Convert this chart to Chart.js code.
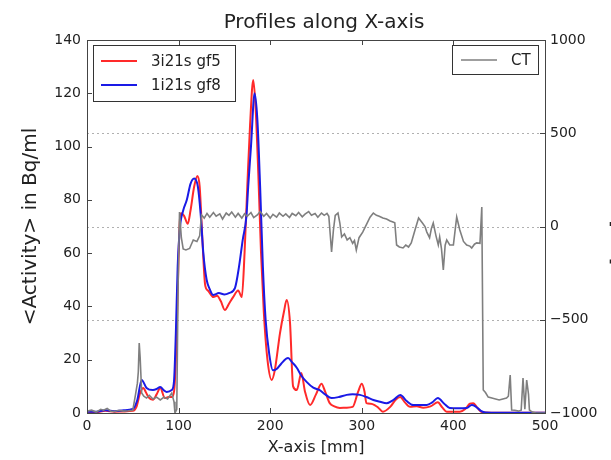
<!DOCTYPE html>
<html>
<head>
<meta charset="utf-8">
<title>Profiles along X-axis</title>
<script src="https://cdn.jsdelivr.net/npm/chart.js@4/dist/chart.umd.min.js"></script>
<style>
    html, body { margin: 0; padding: 0; background: #fff; overflow: hidden; }
    #wrap { width: 611px; height: 460px; overflow: hidden; }
</style>
</head>
<body>
<div id="wrap"><canvas id="graficoPerfis" width="633" height="460"></canvas></div>
<script>
// 3i21s gf5 (left axis, Bq/ml)
const redX = [0, 10, 20, 30, 40, 50, 54, 58, 61.5, 64, 67, 72, 76, 80, 85, 89, 92.5, 95, 97, 99,
    101, 103, 106, 110, 113, 117, 120.5, 123, 126, 129, 132, 138, 142, 146, 150.5, 155, 159.5, 165, 169,
    172, 175, 178, 181.5, 184, 187, 190, 193, 197, 201.6, 205, 210.7, 215, 218, 221.6, 225, 229, 234, 238,
    243.5, 250, 256, 260, 265, 270, 276, 283, 290, 296, 300, 303, 305, 310, 314, 318, 323, 331, 337, 342,
    347, 352.6, 360, 367, 375, 383, 388, 392.7, 400, 407, 413, 418, 421.7, 425, 430, 435, 450, 500];
const redY = [0.5, 0.3, 0.8, 0.5, 0.6, 0.8, 2.3, 7.5, 9.4, 8, 6, 5, 7, 9.4, 5.6, 6, 6, 8, 20, 45,
    70, 75, 74, 71, 76, 85, 89, 85, 65, 48, 46, 43.5, 44, 42, 38.7, 41, 43.5, 46, 43.5,
    60, 85, 108, 125, 115, 90, 60, 38, 20, 12.4, 16, 30, 38, 42.4, 34, 10, 8.6, 15, 8,
    3, 7, 11, 8, 3.7, 2.5, 1.9, 2, 2.3, 8, 11, 8, 3.7, 3.5, 3, 2, 0.5, 2.3, 5, 6,
    4, 2.3, 2.5, 2, 2.5, 4, 2, 0.5, 0.5, 0.5, 1.5, 3.5, 3.7, 2.5, 0.5, 0.2, 0.1, 0.1];

// 1i21s gf8 (left axis, Bq/ml)
const blueX = [0, 10, 20, 30, 40, 50, 55, 59.7, 65, 72, 76, 80, 84, 87, 92.5, 95, 97, 99,
    101.6, 105, 109, 113, 117, 121, 124, 127, 130.6, 134, 137.7, 144, 150, 155, 161.6, 166, 170, 174,
    176, 179, 183, 186, 189, 192, 195, 199, 203, 207, 212, 219.5, 224, 229, 234, 240, 247, 254, 260,
    267, 275, 283.5, 290, 298, 305, 312.6, 320, 327, 335, 342, 349, 356, 363, 371, 377, 383, 390,
    396, 405, 414.5, 420, 424, 430, 435, 450, 500];
const blueY = [0.5, 0.5, 1, 0.7, 1, 1.5, 5, 12.4, 9.4, 8.6, 9, 9.8, 8.5, 7.9, 8.6, 12, 30, 55,
    70, 76, 80, 86, 88, 85, 75, 60, 50, 46.5, 44.3, 45, 44.5, 45, 47, 55, 65, 73.7,
    85, 100, 120, 110, 85, 55, 35, 22, 16, 16.5, 18.5, 20.6, 19, 17, 14, 11.6, 9.5, 8.6, 7,
    5.6, 6, 6.8, 7, 6.8, 6, 4.9, 4.2, 3.7, 5, 6.8, 4.5, 3, 3, 3, 4, 5.6, 3.5,
    1.9, 1.8, 1.9, 3, 2.5, 0.8, 0.2, 0.1, 0.1];

// CT (right axis, HU)
const ctX = [0, 5, 10, 15, 18, 22, 26, 30, 35, 40, 45, 50, 53, 55, 56, 57, 58, 59.7, 62, 65, 68, 72,
    76, 80, 84, 88, 92.5, 95, 96, 98, 99.5, 101, 103, 105, 108, 112, 116, 120, 123, 125,
    128, 131, 134, 138, 141, 145, 148, 152, 155, 158, 162, 165, 169, 172, 175, 179, 182, 186, 189,
    193, 196, 200, 203, 207, 210, 214, 217, 221, 224, 228, 231, 235, 238, 242, 245, 249, 252, 256,
    259, 262, 264, 267, 269, 271, 274, 276, 278, 281, 284, 287, 290, 292, 294, 297, 301, 305, 309,
    312.6, 316, 319, 323, 327, 331, 334, 336, 338, 341, 345, 348, 351, 354, 358, 362, 366, 369, 371,
    374, 376, 378, 381, 383.5, 385, 387, 389, 391, 392.7, 396, 400, 403.6, 407, 411, 414.5, 418, 420,
    423, 425.4, 429, 431, 432.6, 435, 438, 442, 446, 450, 454, 458, 460, 462, 463.6, 467, 471, 474,
    476, 478, 480, 482, 483, 486, 490, 500];
const ctY = [-990, -985, -995, -980, -985, -975, -990, -992, -985, -990, -988, -985, -900, -840, -780, -625, -700, -893, -910, -920, -905, -925,
    -915, -930, -915, -925, -893, -940, -1000, -980, -300, 78, -60, -120, -126, -118, -72, -80, -50, 62,
    45, 70, 50, 75, 55, 68, 40, 72, 60, 78, 50, 70, 45, 68, 55, 75, 48, 62, 80,
    55, 70, 45, 65, 50, 72, 55, 68, 48, 70, 58, 75, 52, 66, 80, 60, 70, 50, 72,
    60, 70, 55, -137, -20, 60, 72, 20, -56, -40, -72, -60, -90, -75, -126, -60, -30, 10, 50,
    72, 60, 55, 46, 40, 30, 24, 20, -99, -110, -115, -100, -110, -88, -20, 46, 20, 0, -30,
    -60, -10, 19, -50, -99, -56, -120, -233, -100, -72, -99, -99, 51, -19, -80, -99, -105, -115,
    -95, -88, -90, 105, -877, -890, -915, -920, -925, -930, -925, -920, -910, -796, -984, -985, -990, -985,
    -812, -980, -823, -900, -984, -995, -1000, -1000];

// ticks
const xTicks = [0, 100, 200, 300, 400, 500];
const yTicks = [0, 20, 40, 60, 80, 100, 120, 140];
const y2Ticks = [-1000, -500, 0, 500, 1000];

const LEFT = 87, RIGHT = 545, BOTTOM = 413, W = 633, H = 460;
const FONT = "'DejaVu Sans', sans-serif";

function pares(xs, ys) {
    return xs.map((x, i) => ({ x: x, y: ys[i] }));
}

// sinal de menos como no original
function rotulo(v) {
    return v < 0 ? '\u2212' + Math.abs(v) : String(v);
}

// grade, moldura, ticks para dentro e as duas legendas
const molduraPlugin = {
    id: 'moldura',
    beforeDatasetsDraw(chart) {
        const { ctx, chartArea: a, scales } = chart;
        ctx.save();
        ctx.strokeStyle = '#b0b0b0';
        ctx.lineWidth = 1;
        ctx.setLineDash([2, 3]);
        y2Ticks.forEach(v => {
            if (v === -1000 || v === 1000) return;
            const y = Math.round(scales.y2.getPixelForValue(v)) + 0.5;
            ctx.beginPath();
            ctx.moveTo(a.left, y);
            ctx.lineTo(a.right, y);
            ctx.stroke();
        });
        ctx.restore();
    },
    afterDraw(chart) {
        const { ctx, chartArea: a, scales } = chart;
        ctx.save();
        ctx.strokeStyle = '#444';
        ctx.lineWidth = 1;
        ctx.strokeRect(a.left + 0.5, a.top + 0.5, a.right - a.left, a.bottom - a.top);
        ctx.beginPath();
        xTicks.forEach(v => {
            const x = Math.round(scales.x.getPixelForValue(v)) + 0.5;
            ctx.moveTo(x, a.bottom); ctx.lineTo(x, a.bottom - 5);
            ctx.moveTo(x, a.top); ctx.lineTo(x, a.top + 5);
        });
        yTicks.forEach(v => {
            const y = Math.round(scales.y.getPixelForValue(v)) + 0.5;
            ctx.moveTo(a.left, y); ctx.lineTo(a.left + 5, y);
        });
        y2Ticks.forEach(v => {
            const y = Math.round(scales.y2.getPixelForValue(v)) + 0.5;
            ctx.moveTo(a.right, y); ctx.lineTo(a.right - 5, y);
        });
        ctx.stroke();

        // legendas
        const ds = chart.data.datasets;
        ctx.font = '15px ' + FONT;
        ctx.textBaseline = 'middle';
        ctx.lineWidth = 1;
        ctx.strokeStyle = '#333';
        ctx.fillStyle = '#fff';
        ctx.fillRect(a.left + 6, a.top + 5, 142, 56);
        ctx.strokeRect(a.left + 6.5, a.top + 5.5, 142, 56);
        ctx.fillRect(a.right - 93, a.top + 5, 86, 29);
        ctx.strokeRect(a.right - 92.5, a.top + 5.5, 86, 29);

        const linha = (d, x, y) => {
            ctx.strokeStyle = d.borderColor;
            ctx.lineWidth = d.borderWidth;
            ctx.beginPath();
            ctx.moveTo(x, y); ctx.lineTo(x + 36, y);
            ctx.stroke();
            ctx.fillStyle = '#222';
            ctx.fillText(d.label, x + 50, y + 1);
        };
        linha(ds[2], a.left + 14, a.top + 21);
        linha(ds[1], a.left + 14, a.top + 45);
        linha(ds[0], a.right - 84, a.top + 20);
        ctx.restore();
    }
};

const ctx = document.getElementById('graficoPerfis').getContext('2d');
const graficoPerfis = new Chart(ctx, {
    type: 'line',
    data: {
        datasets: [
            {
                label: 'CT',
                data: pares(ctX, ctY),
                yAxisID: 'y2',
                borderColor: '#7f7f7f',
                borderWidth: 1.6,
                pointRadius: 0,
                tension: 0,
                order: 0
            },
            {
                label: '1i21s gf8',
                data: pares(blueX, blueY),
                yAxisID: 'y',
                borderColor: '#1a1ae6',
                borderWidth: 2,
                pointRadius: 0,
                cubicInterpolationMode: 'monotone',
                order: 1
            },
            {
                label: '3i21s gf5',
                data: pares(redX, redY),
                yAxisID: 'y',
                borderColor: '#ff2a2a',
                borderWidth: 2,
                pointRadius: 0,
                cubicInterpolationMode: 'monotone',
                order: 2
            }
        ]
    },
    options: {
        responsive: false,
        animation: false,
        layout: { padding: { left: 15, right: 0, top: 0, bottom: 0 } },
        plugins: {
            legend: { display: false },
            tooltip: { enabled: false },
            title: {
                display: true,
                text: 'Profiles along X-axis',
                color: '#222',
                font: { family: FONT, size: 20, weight: 'normal' },
                padding: { top: 11, bottom: 5 }
            }
        },
        scales: {
            x: {
                type: 'linear',
                min: 0,
                max: 500,
                afterBuildTicks: s => { s.ticks = xTicks.map(v => ({ value: v })); },
                ticks: { color: '#222', font: { family: FONT, size: 14 }, padding: 5, maxRotation: 0, callback: rotulo },
                grid: { display: false, drawTicks: false },
                border: { display: false },
                title: {
                    display: true, text: 'X-axis [mm]', color: '#222',
                    font: { family: FONT, size: 16 }, padding: { top: 0, bottom: 3 }
                },
                afterFit: s => { s.height = H - BOTTOM; }
            },
            y: {
                position: 'left',
                min: 0,
                max: 140,
                afterBuildTicks: s => { s.ticks = yTicks.map(v => ({ value: v })); },
                ticks: { color: '#222', font: { family: FONT, size: 14 }, padding: 6, callback: rotulo },
                grid: { display: false, drawTicks: false },
                border: { display: false },
                title: {
                    display: true, text: '<Activity> in Bq/ml', color: '#222',
                    font: { family: FONT, size: 20 }, padding: { top: 4, bottom: 4 }
                },
                afterFit: s => { s.width = LEFT - 15; }
            },
            y2: {
                position: 'right',
                min: -1000,
                max: 1000,
                afterBuildTicks: s => { s.ticks = y2Ticks.map(v => ({ value: v })); },
                ticks: { color: '#222', font: { family: FONT, size: 14 }, padding: 5, callback: rotulo },
                grid: { display: false, drawTicks: false },
                border: { display: false },
                title: {
                    display: true, text: 'CT [HU]', color: '#222',
                    font: { family: FONT, size: 20 }, padding: { top: 4, bottom: 4 }
                },
                afterFit: s => { s.width = W - RIGHT; }
            }
        }
    },
    plugins: [molduraPlugin]
});
</script>
</body>
</html>
